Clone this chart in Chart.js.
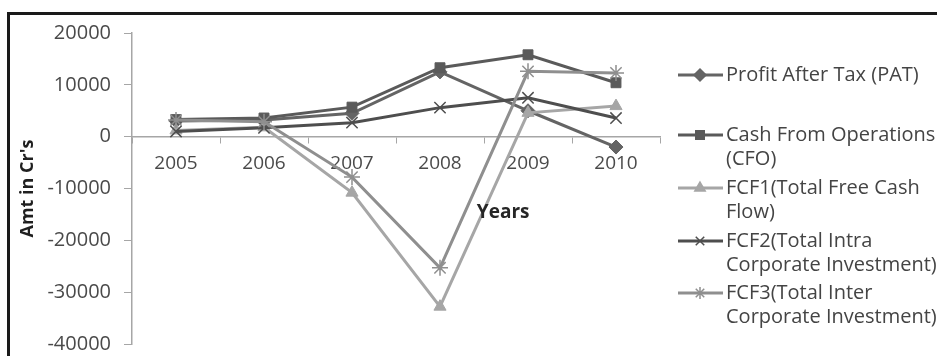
<!DOCTYPE html>
<html>
<head>
<meta charset="utf-8">
<script src="https://cdn.jsdelivr.net/npm/chart.js@4/dist/chart.umd.min.js"></script>
<style>
  html, body { margin: 0; padding: 0; background: #fff; }
  #wrap { width: 937px; height: 356px; position: relative; }
</style>
</head>
<body>
<div id="wrap"><canvas id="myChart" width="937" height="356"></canvas></div>
<script>
// data
var years = ['2005', '2006', '2007', '2008', '2009', '2010'];
var pat  = [3000, 3200, 4500, 12500, 5000, -2000];
var cfo  = [3300, 3600, 5700, 13300, 15800, 10400];
var fcf1 = [1200, 1800, -10800, -32800, 4600, 5900];
var fcf2 = [1000, 1700, 2700, 5600, 7500, 3600];
var fcf3 = [3200, 2900, -7800, -25300, 12600, 12300];

var seriesNames = [
    ['Profit After Tax (PAT)'],
    ['Cash From Operations', '(CFO)'],
    ['FCF1(Total Free Cash', 'Flow)'],
    ['FCF2(Total Intra', 'Corporate Investment)'],
    ['FCF3(Total Inter', 'Corporate Investment)']
];
var yTicks = [20000, 10000, 0, -10000, -20000, -30000, -40000];

var colors = ['#646464', '#5a5a5a', '#a6a6a6', '#4e4e4e', '#8f8f8f'];
var markers = ['rectRot', 'rect', 'triangle', 'crossRot', 'star'];

function makeSet(i, data) {
    var thin = (markers[i] == 'crossRot' || markers[i] == 'star');
    return {
        label: seriesNames[i].join(' '),
        data: data,
        borderColor: colors[i],
        backgroundColor: colors[i],
        pointBorderColor: colors[i],
        pointBackgroundColor: colors[i],
        borderWidth: 3,
        pointStyle: markers[i],
        pointRadius: thin ? 8 : 7,
        pointBorderWidth: thin ? 1.5 : 1,
        tension: 0,
        fill: false,
        order: 5 - i
    };
}

// frame, "Years" label and the legend
var extras = {
    id: 'extras',
    beforeDraw: function (chart) {
        var c = chart.ctx;
        c.save();
        c.fillStyle = '#fff';
        c.fillRect(0, 0, chart.width, chart.height);
        c.fillStyle = '#1a1a1a';
        c.fillRect(7, 12, 3, chart.height);
        c.fillRect(7, 12, chart.width, 3);
        c.restore();
    },
    afterDraw: function (chart) {
        var c = chart.ctx;
        var area = chart.chartArea;
        c.save();
        c.font = 'bold 19px "Open Sans"';
        c.fillStyle = '#262626';
        c.textAlign = 'center';
        c.textBaseline = 'middle';
        c.fillText('Years', area.left + (area.right - area.left) * 0.703, 213);

        var rowY = [75, 135, 188, 241, 293];
        c.font = '20px "Open Sans"';
        c.textAlign = 'left';
        for (var i = 0; i < seriesNames.length; i++) {
            var y = rowY[i];
            c.strokeStyle = colors[i];
            c.lineWidth = 3;
            c.beginPath();
            c.moveTo(678, y);
            c.lineTo(723, y);
            c.stroke();
            c.fillStyle = colors[i];
            c.lineWidth = 1.5;
            Chart.helpers.drawPoint(c, {pointStyle: markers[i], radius: 6, rotation: 0, borderWidth: 1.5}, 700, y);
            c.fillStyle = '#444';
            for (var k = 0; k < seriesNames[i].length; k++) {
                c.fillText(seriesNames[i][k], 726, y + k * 24);
            }
        }
        c.restore();
    }
};

var ctx = document.getElementById('myChart').getContext('2d');
var chart = new Chart(ctx, {
    type: 'line',
    data: {
        labels: years,
        datasets: [
            makeSet(0, pat),
            makeSet(1, cfo),
            makeSet(2, fcf1),
            makeSet(3, fcf2),
            makeSet(4, fcf3)
        ]
    },
    options: {
        responsive: false,
        animation: false,
        layout: { padding: { left: 14, top: 33, right: 277, bottom: 12 } },
        plugins: {
            legend: { display: false },
            tooltip: { enabled: false }
        },
        scales: {
            x: {
                position: { y: 0 },
                offset: true,
                afterFit: function (scale) {
                    scale.height = 0;
                    scale.paddingLeft = 0;
                    scale.paddingRight = 0;
                },
                border: { color: '#a6a6a6', width: 1.5 },
                grid: { display: true, drawOnChartArea: false, drawTicks: true, tickLength: 6, color: '#a6a6a6', offset: true },
                ticks: { color: '#4a4a4a', font: { family: 'Open Sans', size: 19 }, padding: 10, maxRotation: 0 }
            },
            y: {
                min: -40000,
                max: 20000,
                afterFit: function (scale) {
                    scale.width = 118;
                    scale.paddingTop = 0;
                    scale.paddingBottom = 0;
                },
                afterBuildTicks: function (scale) {
                    scale.ticks = yTicks.map(function (v) { return { value: v }; });
                },
                border: { color: '#a6a6a6', width: 1.5 },
                grid: { display: true, drawOnChartArea: false, drawTicks: true, tickLength: 8, color: '#a6a6a6' },
                ticks: {
                    color: '#4a4a4a',
                    font: { family: 'Open Sans', size: 20 },
                    padding: 13,
                    callback: function (v) { return String(v); }
                },
                title: {
                    display: true,
                    text: "Amt in Cr's",
                    color: '#1f1f1f',
                    font: { family: 'Open Sans', size: 18, weight: 'bold' },
                    padding: { top: 3, bottom: 0 }
                }
            }
        }
    },
    plugins: [extras]
});
</script>
</body>
</html>
